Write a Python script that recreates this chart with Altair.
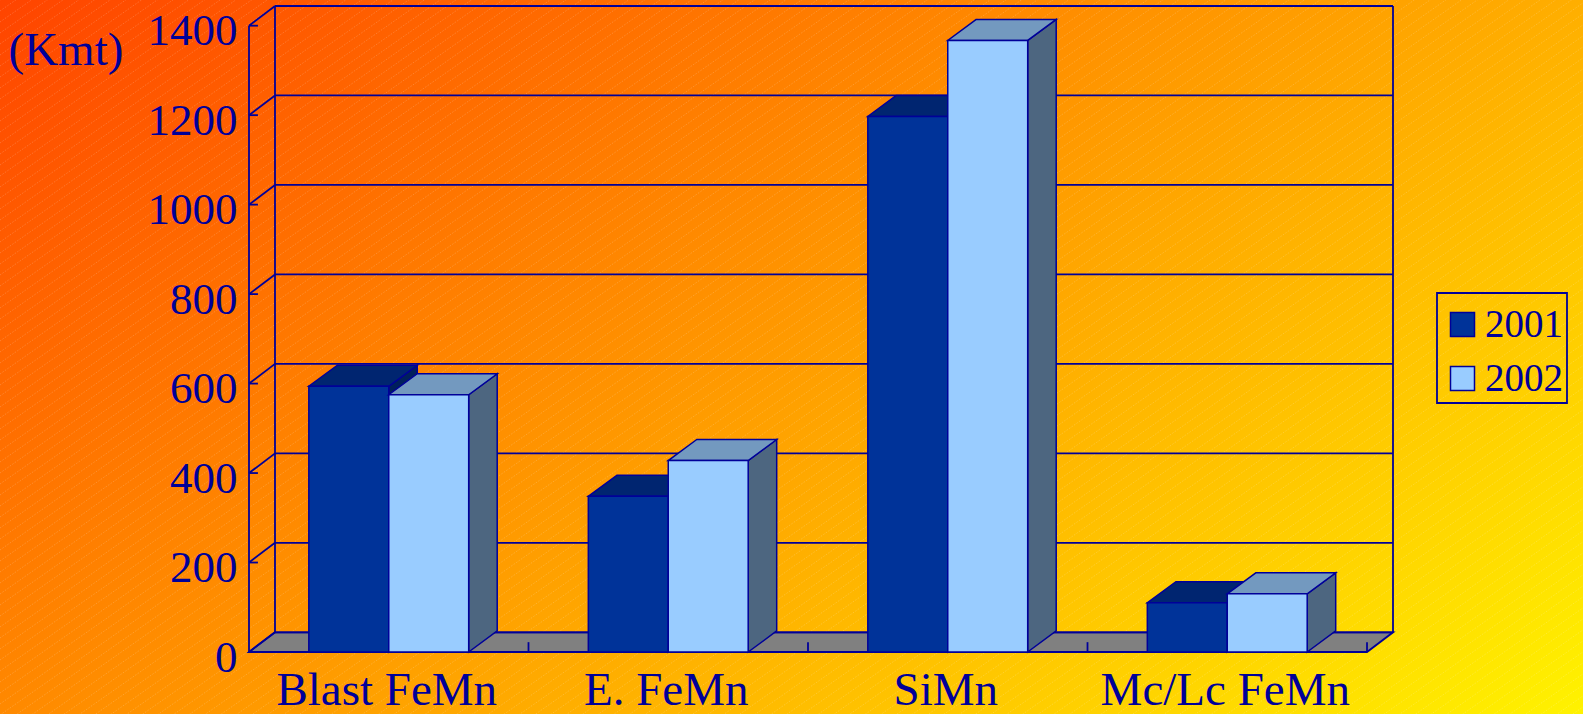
import altair as alt
import pandas as pd

# ---- data -------------------------------------------------------------
categories = ["Blast FeMn", "E. FeMn", "SiMn", "Mc/Lc FeMn"]
series = ["2001", "2002"]
values_2001 = [594, 348, 1197, 110]
values_2002 = [575, 428, 1367, 130]
y_ticks = [0, 200, 400, 600, 800, 1000, 1200, 1400]
unit_label = "(Kmt)"

# ---- style ------------------------------------------------------------
INK = "#000099"
FONT = "Liberation Serif"
FRONT = ["#003399", "#99CCFF"]
TOP = ["#002570", "#7399BF"]
SIDE = ["#001F5C", "#4D6680"]
FLOOR = "#808080"

# depth of the box walls and of the bars, in data units of the two scales
WALL_DX, WALL_DY = 0.093, 44
BAR_DX, BAR_DY = 0.102, 47
BAR_W = 0.286
N = len(categories)
X_MAX = N + WALL_DX
Y_MAX = y_ticks[-1] + WALL_DY
W, H = 1144, 646
PAD = {"left": 249, "top": 6, "right": 190, "bottom": 62}
FULL_W = W + PAD["left"] + PAD["right"]
FULL_H = H + PAD["top"] + PAD["bottom"]

xs = alt.Scale(domain=[0, X_MAX], nice=False, zero=False)
ys = alt.Scale(domain=[0, Y_MAX], nice=False, zero=False)


def qx(field, **kw):
    return alt.X(field, type="quantitative", scale=xs, axis=None, **kw)


def qy(field, **kw):
    return alt.Y(field, type="quantitative", scale=ys, axis=None, **kw)


# ---- derived tables ----------------------------------------------------
front_rows, top_rows, side_rows = [], [], []
for i, cat in enumerate(categories):
    for j, (s, vals) in enumerate(zip(series, [values_2001, values_2002])):
        v = vals[i]
        x0 = i + 0.5 - BAR_W + j * BAR_W
        x1 = x0 + BAR_W
        bid = f"{i}-{s}"
        front_rows.append(dict(series=s, x0=x0, x1=x1, y0=0, v=v))
        top_rows += [
            dict(series=s, bar=bid, y=v, xa=x0, xb=x1),
            dict(series=s, bar=bid, y=v + BAR_DY, xa=x0 + BAR_DX, xb=x1 + BAR_DX),
        ]
        side_rows += [
            dict(series=s, bar=bid, x=x1, ya=0, yb=v),
            dict(series=s, bar=bid, x=x1 + BAR_DX, ya=BAR_DY, yb=v + BAR_DY),
        ]
front_df = pd.DataFrame(front_rows)
top_df = pd.DataFrame(top_rows)
side_df = pd.DataFrame(side_rows)

floor_df = pd.DataFrame([
    dict(y=0, xa=0, xb=N),
    dict(y=WALL_DY, xa=WALL_DX, xb=N + WALL_DX),
])
back_grid_df = pd.DataFrame(
    [dict(xa=WALL_DX, xb=X_MAX, y=v + WALL_DY) for v in y_ticks])
back_edges_df = pd.DataFrame(
    [dict(x=WALL_DX, ya=WALL_DY, yb=Y_MAX), dict(x=X_MAX, ya=WALL_DY, yb=Y_MAX)])
side_grid_df = pd.DataFrame(
    [dict(xa=0, xb=WALL_DX, ya=v, yb=v + WALL_DY) for v in y_ticks])
axis_line_df = pd.DataFrame([dict(x=0, ya=0, yb=y_ticks[-1])])
stub_df = pd.DataFrame([dict(xa=0, xb=0.032, v=v) for v in y_ticks])
floor_tick_df = pd.DataFrame([dict(x=k, ya=0, yb=22) for k in range(1, N + 1)])
label_df = pd.DataFrame([dict(name=c, xc=i + 0.5) for i, c in enumerate(categories)])

# diagonal hatch texture of the slide background, in page pixels
HATCH_STEP, HATCH_SLOPE = 11, 0.7
hatch_df = pd.DataFrame([
    dict(px0=-PAD["left"], px1=FULL_W - PAD["left"],
         py0=c - PAD["top"], py1=c - HATCH_SLOPE * FULL_W - PAD["top"])
    for c in range(0, int(FULL_H + HATCH_SLOPE * FULL_W) + HATCH_STEP, HATCH_STEP)
])
px_scale_x = alt.Scale(domain=[0, W], range=[0, W], nice=False, zero=False)
px_scale_y = alt.Scale(domain=[0, H], range=[0, H], nice=False, zero=False)

# ---- layers --------------------------------------------------------------
background = alt.Chart(pd.DataFrame([{"k": 0}])).mark_rect(
    fill=alt.LinearGradient(
        gradient="linear",
        stops=[alt.GradientStop(color="#FF4400", offset=0),
               alt.GradientStop(color="#FF9C00", offset=0.5),
               alt.GradientStop(color="#FFF200", offset=1)],
        x1=0, y1=0, x2=1.16, y2=0.75,
    )
).encode(
    x=alt.value(-PAD["left"]), x2=alt.value(W + PAD["right"]),
    y=alt.value(-PAD["top"]), y2=alt.value(H + PAD["bottom"]),
)

hatch = alt.Chart(hatch_df).mark_rule(
    color="white", strokeWidth=1, opacity=0.18, strokeDash=[1.5, 1.5], clip=False
).encode(
    x=alt.X("px0:Q", scale=px_scale_x, axis=None),
    x2="px1:Q",
    y=alt.Y("py0:Q", scale=px_scale_y, axis=None),
    y2="py1:Q",
)

floor = alt.Chart(floor_df).mark_area(
    orient="horizontal", fill=FLOOR, stroke=INK, strokeWidth=1.8
).encode(y=qy("y"), x=qx("xa", stack=False), x2="xb")

line_style = dict(color=INK, strokeWidth=1.8)

back_grid = alt.Chart(back_grid_df).mark_rule(**line_style).encode(
    x=qx("xa"), x2="xb", y=qy("y"))
back_edges = alt.Chart(back_edges_df).mark_rule(**line_style).encode(
    x=qx("x"), y=qy("ya"), y2="yb")
side_grid = alt.Chart(side_grid_df).mark_rule(**line_style).encode(
    x=qx("xa"), x2="xb", y=qy("ya"), y2="yb")
axis_line = alt.Chart(axis_line_df).mark_rule(**line_style).encode(
    x=qx("x"), y=qy("ya"), y2="yb")
floor_ticks = alt.Chart(floor_tick_df).mark_rule(**line_style).encode(
    x=qx("x"), y=qy("ya"), y2="yb")

stubs = alt.Chart(stub_df).mark_rule(**line_style).encode(
    x=qx("xa"), x2="xb",
    y=alt.Y("v", type="quantitative", scale=ys, axis=alt.Axis(
        values=y_ticks, format="d", domain=False, ticks=False, tickSize=0,
        grid=False, zindex=1, labelFont=FONT, labelFontSize=45,
        labelColor=INK, labelPadding=12, labelBaseline="alphabetic",
        labelOffset=19, title=unit_label, titleAngle=0, titleX=-241,
        titleY=58, titleAlign="left", titleBaseline="alphabetic",
        titleFont=FONT, titleFontSize=47, titleFontWeight="normal",
        titleColor=INK,
    )),
)

legend = alt.Legend(
    title=" ", titleFontSize=1, titlePadding=7,
    orient="none", legendX=1188, legendY=287,
    symbolType="square", symbolSize=576, symbolStrokeColor=INK,
    symbolStrokeWidth=1.5, symbolOffset=2,
    labelFont=FONT, labelFontSize=39, labelColor=INK, labelOffset=3,
    labelExpr="datum.label + '\u00a0'",
    rowPadding=14, padding=4, strokeColor=INK,
)

bar_layers = []
for j, s in enumerate(series):
    side = alt.Chart(side_df[side_df.series == s]).mark_area(
        orient="vertical", fill=SIDE[j], stroke=INK, strokeWidth=1.5
    ).encode(x=qx("x"), y=qy("ya", stack=False), y2="yb", detail="bar:N")
    top = alt.Chart(top_df[top_df.series == s]).mark_area(
        orient="horizontal", fill=TOP[j], stroke=INK, strokeWidth=1.5
    ).encode(y=qy("y"), x=qx("xa", stack=False), x2="xb", detail="bar:N")
    front = alt.Chart(front_df[front_df.series == s]).mark_rect(
        stroke=INK, strokeWidth=1.5
    ).encode(
        x=qx("x0"), x2="x1", y=qy("y0"), y2="v",
        color=alt.Color("series:N",
                        scale=alt.Scale(domain=series, range=FRONT),
                        legend=legend),
    )
    bar_layers += [side, top, front]

labels = alt.Chart(label_df).mark_text(
    align="center", baseline="alphabetic", font=FONT, fontSize=47,
    color=INK, dx=-2,
).encode(x=qx("xc"), y=alt.value(699), text="name:N")

chart = alt.layer(
    background, hatch, floor, back_grid, back_edges, side_grid, axis_line,
    stubs, floor_ticks, *bar_layers, labels,
).resolve_scale(
    x="independent", y="independent"
).properties(
    width=W, height=H, padding=PAD,
    autosize=alt.AutoSizeParams(type="none"),
    background="#FFA000",
).configure_view(strokeWidth=0).configure_legend(strokeWidth=1.8)

chart.save("out.html", embed_options={"renderer": "svg", "actions": False})
